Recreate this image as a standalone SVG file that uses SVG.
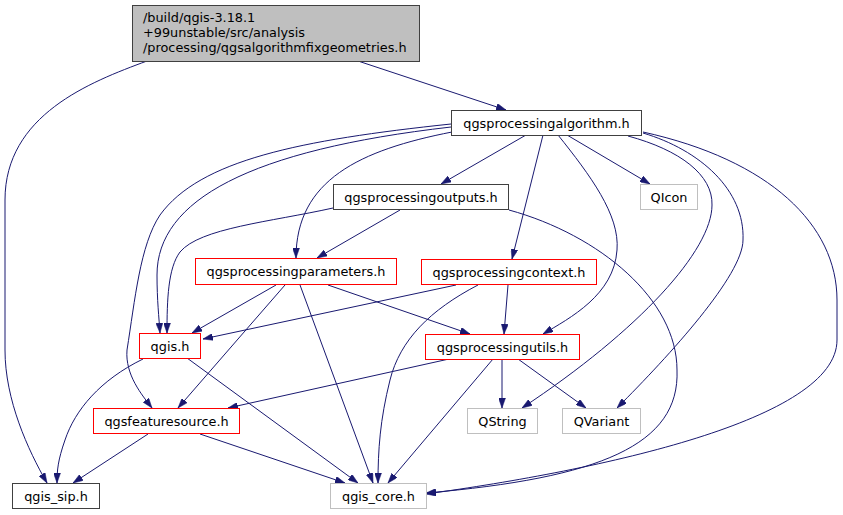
<svg xmlns="http://www.w3.org/2000/svg" width="843" height="515" viewBox="0 0 843 515">
<style>
text{font-family:"DejaVu Sans","Liberation Sans",sans-serif;font-size:12.85px;fill:#000}
.n rect{fill:#fff;stroke-width:1}
.blk rect{stroke:#404040}
.red rect{stroke:#ff0000}
.gry rect{stroke:#bfbfbf}
.main rect{fill:#bfbfbf;stroke:#404040}
.c text{text-anchor:middle}
#edges path{fill:none;stroke:#191970;stroke-width:1;marker-end:url(#ah)}
</style>
<defs>
<marker id="ah" viewBox="0 0 10 7" refX="10" refY="3.5" markerWidth="10" markerHeight="7" markerUnits="userSpaceOnUse" orient="auto">
<path d="M0,0 L10,3.5 L0,7 z" fill="#191970" stroke="#191970" stroke-width="0.5"/>
</marker>
</defs>
<rect width="843" height="515" fill="#fff"/>
<g id="edges">
<path d="M147,61 C90,82 5,115 5,200 L5,350 C5,400 28,450 47,483"/>
<path d="M358,61 L506,110"/>
<path d="M526,135 L441,184"/>
<path d="M452,132 C360,150 296,180 296,258"/>
<path d="M451,127 C250,150 157,200 157,275 C157,300 159,318 160,333"/>
<path d="M451,124 C300,140 200,160 160,215 C140,245 135,300 127,350 C125,375 142,395 152,408"/>
<path d="M543,135 L512,259"/>
<path d="M558,135 C590,175 620,215 617,250 C614,295 570,318 543,334"/>
<path d="M567,135 L650,184"/>
<path d="M628,136 C680,150 713,175 712,205 C712,250 640,330 522,408"/>
<path d="M643,133 C700,150 745,190 743,240 C743,275 670,355 617,408"/>
<path d="M643,132 C770,160 837,225 837,300 L837,340 C837,420 600,470 426,494"/>
<path d="M400,210 L317,258"/>
<path d="M333,208 C270,222 200,228 180,252 C168,268 167,300 167,333"/>
<path d="M509,210 C600,235 677,300 677,370 C680,445 600,478 426,493"/>
<path d="M276,285 L192,333"/>
<path d="M285,285 L178,408"/>
<path d="M300,285 L373,483"/>
<path d="M328,285 L470,334"/>
<path d="M456,285 L203,339"/>
<path d="M478,285 C430,310 400,340 390,380 C380,420 378,450 378,483"/>
<path d="M508,285 L504,334"/>
<path d="M143,359 C100,380 75,410 65,440 C58,460 57,470 57,483"/>
<path d="M187,358 L358,483"/>
<path d="M148,434 L73,483"/>
<path d="M200,434 L345,483"/>
<path d="M449,359 L228,408"/>
<path d="M502,359 L502,408"/>
<path d="M518,359 L586,408"/>
<path d="M493,359 L388,483"/>
</g>
<g id="node-main" class="n main">
<rect x="132.5" y="5.5" width="287" height="56"/>
<text x="143" y="22">/build/qgis-3.18.1</text>
<text x="143" y="37">+99unstable/src/analysis</text>
<text x="143" y="52">/processing/qgsalgorithmfixgeometries.h</text>
</g>
<g id="node-alg" class="n blk c">
<rect x="451.5" y="110.5" width="190" height="25"/>
<text x="546.5" y="127.5">qgsprocessingalgorithm.h</text>
</g>
<g id="node-outputs" class="n blk c">
<rect x="333.5" y="184.5" width="175" height="25"/>
<text x="421" y="201.5">qgsprocessingoutputs.h</text>
</g>
<g id="node-qicon" class="n gry c">
<rect x="640.5" y="184.5" width="57" height="25"/>
<text x="669" y="201.5">QIcon</text>
</g>
<g id="node-params" class="n red c">
<rect x="195.5" y="258.5" width="201" height="26"/>
<text x="296" y="276">qgsprocessingparameters.h</text>
</g>
<g id="node-context" class="n red c">
<rect x="421.5" y="259.5" width="175" height="25"/>
<text x="509" y="276.5">qgsprocessingcontext.h</text>
</g>
<g id="node-qgis" class="n red c">
<rect x="139.5" y="333.5" width="61" height="25"/>
<text x="170" y="350.5">qgis.h</text>
</g>
<g id="node-utils" class="n red c">
<rect x="425.5" y="334.5" width="154" height="25"/>
<text x="502.5" y="351.5">qgsprocessingutils.h</text>
</g>
<g id="node-qstring" class="n gry c">
<rect x="467.5" y="408.5" width="70" height="25"/>
<text x="502.5" y="425.5">QString</text>
</g>
<g id="node-qvariant" class="n gry c">
<rect x="562.5" y="408.5" width="78" height="25"/>
<text x="601.5" y="425.5">QVariant</text>
</g>
<g id="node-featuresource" class="n red c">
<rect x="93.5" y="408.5" width="146" height="25"/>
<text x="166.5" y="425.5">qgsfeaturesource.h</text>
</g>
<g id="node-sip" class="n blk c">
<rect x="12.5" y="483.5" width="87" height="25"/>
<text x="56" y="500.5">qgis_sip.h</text>
</g>
<g id="node-core" class="n gry c">
<rect x="330.5" y="483.5" width="96" height="25"/>
<text x="378.5" y="500.5">qgis_core.h</text>
</g>
</svg>
